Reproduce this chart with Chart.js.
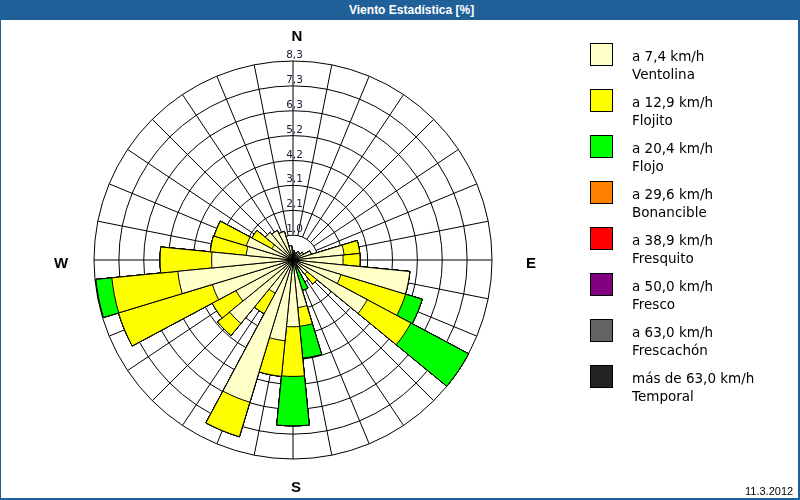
<!DOCTYPE html>
<html>
<head>
<meta charset="utf-8">
<script src="https://cdn.jsdelivr.net/npm/chart.js@4/dist/chart.umd.min.js"></script>
<style>
  html, body { margin: 0; padding: 0; background: #fff; }
  #wrap { position: relative; width: 800px; height: 500px; overflow: hidden; background: #fff; }
  #frame { position: absolute; left: 0; top: 0; width: 797px; height: 498px;
           border-left: 1px solid #1f6098; border-right: 2px solid #1f6098; border-bottom: 2px solid #1f6098; }
  #title { position: absolute; left: 0; top: 0; width: 800px; height: 20px; background: #1f6098; }
  #title span { position: absolute; left: 349px; top: 3px; color: #fff;
                font: bold 12px "Liberation Sans", Arial, sans-serif; line-height: 14px; white-space: nowrap; }
  #chart { position: absolute; left: 0; top: 0; }
  #legend { position: absolute; left: 590px; top: 43px; }
  .item { position: absolute; left: 0; width: 200px; height: 40px; }
  .box { position: absolute; left: 0; top: 0; width: 21px; height: 21px; border: 1px solid #000; }
  .txt { position: absolute; left: 42px; top: 5px; font: 13.5px "DejaVu Sans", sans-serif;
         line-height: 17.5px; color: #000; white-space: nowrap; }
  #date { position: absolute; left: 745px; top: 485px; font: 11px "Liberation Sans", Arial, sans-serif;
          color: #000; white-space: nowrap; }
</style>
</head>
<body>
<div id="wrap">
  <canvas id="chart" width="800" height="500"></canvas>
  <div id="frame"></div>
  <div id="title"><span>Viento Estadística [%]</span></div>
  <div id="legend"></div>
  <div id="date">11.3.2012</div>
</div>
<script>
// 32 wind directions, clockwise from north
const directions = ['N','NbE','NNE','NEbN','NE','NEbE','ENE','EbN',
                    'E','EbS','ESE','SEbE','SE','SEbS','SSE','SbE',
                    'S','SbW','SSW','SWbS','SW','SWbW','WSW','WbS',
                    'W','WbN','WNW','NWbW','NW','NWbN','NNW','NbW'];

// percentage of each speed band per direction
const ventolina  = [0.4, 0.3, 0.3, 0.4, 0.4, 0.5, 0.8, 2.15, 2.1, 4.92, 2.1, 3.53, 0.77, 0.2, 0.2, 2.0,
                    2.8, 3.4, 6.23, 1.58, 3.44, 2.71, 3.53, 4.85, 3.41, 1.97, 2.04, 1.0, 1.5, 1.4, 1.25, 0.6];
const flojito    = [0, 0, 0, 0, 0, 0, 0, 0.66, 0.71, 0, 2.83, 2.07, 0.53, 0, 0.15, 0.79,
                    2.08, 1.5, 1.51, 0.97, 0.65, 1.13, 4.11, 2.78, 2.16, 1.51, 1.41, 0.95, 0, 0, 0, 0];
const flojo      = [0, 0, 0, 0, 0, 0, 0, 0, 0, 0, 0.73, 2.74, 0, 0, 0.98, 1.34,
                    2.07, 0, 0, 0, 0, 0, 0, 0.67, 0, 0, 0, 0, 0, 0, 0, 0];
const bonancible = [0, 0, 0, 0, 0, 0, 0, 0, 0, 0, 0, 0, 0, 0, 0, 0,
                    0, 0, 0, 0, 0, 0, 0, 0, 0, 0, 0, 0, 0, 0, 0, 0];
const fresquito  = [0, 0, 0, 0, 0, 0, 0, 0, 0, 0, 0, 0, 0, 0, 0, 0,
                    0, 0, 0, 0, 0, 0, 0, 0, 0, 0, 0, 0, 0, 0, 0, 0];
const fresco     = [0, 0, 0, 0, 0, 0, 0, 0, 0, 0, 0, 0, 0, 0, 0, 0,
                    0, 0, 0, 0, 0, 0, 0, 0, 0, 0, 0, 0, 0, 0, 0, 0];
const frescachon = [0, 0, 0, 0, 0, 0, 0, 0, 0, 0, 0, 0, 0, 0, 0, 0,
                    0, 0, 0, 0, 0, 0, 0, 0, 0, 0, 0, 0, 0, 0, 0, 0];
const temporal   = [0, 0, 0, 0, 0, 0, 0, 0, 0, 0, 0, 0, 0, 0, 0, 0,
                    0, 0, 0, 0, 0, 0, 0, 0, 0, 0, 0, 0, 0, 0, 0, 0];

const seriesNames  = ['Ventolina', 'Flojito', 'Flojo', 'Bonancible', 'Fresquito', 'Fresco', 'Frescachón', 'Temporal'];
const seriesRanges = ['a 7,4 km/h', 'a 12,9 km/h', 'a 20,4 km/h', 'a 29,6 km/h', 'a 38,9 km/h',
                      'a 50,0 km/h', 'a 63,0 km/h', 'más de 63,0 km/h'];
const seriesColors = ['#FFFFC8', '#FFFF00', '#00FF00', '#FF8000', '#FF0000', '#800080', '#646464', '#232323'];

const tickValues = [0, 1.0425, 2.085, 3.1275, 4.17, 5.2125, 6.255, 7.2975, 8.34];
const tickLabels = ['', '1,0', '2,1', '3,1', '4,2', '5,2', '6,3', '7,3', '8,3'];
const cardinalLabels = ['N', 'E', 'S', 'W'];

// build stacked (cumulative) rings; dataset 0 is drawn on top by Chart.js
const bands = [ventolina, flojito, flojo, bonancible, fresquito, fresco, frescachon, temporal];
let running = directions.map(() => 0);
const datasets = bands.map((band, k) => {
  running = running.map((v, i) => v + band[i]);
  return {
    label: seriesNames[k],
    data: running.slice(),
    backgroundColor: seriesColors[k],
    borderColor: '#000000',
    borderWidth: 1
  };
});

// HTML legend from the series arrays
const legendEl = document.getElementById('legend');
seriesNames.forEach((name, k) => {
  const it = document.createElement('div');
  it.className = 'item';
  it.style.top = (k * 46) + 'px';
  const box = document.createElement('div');
  box.className = 'box';
  box.style.background = seriesColors[k];
  const txt = document.createElement('div');
  txt.className = 'txt';
  txt.innerHTML = seriesRanges[k] + '<br>' + name;
  it.appendChild(box); it.appendChild(txt);
  legendEl.appendChild(it);
});

const roseDecor = {
  id: 'roseDecor',
  beforeDatasetsDraw(chart) {
    const s = chart.scales.r, ctx = chart.ctx;
    const half = Math.PI / directions.length;
    const r0 = s.getDistanceFromCenterForValue(tickValues[1]);
    const r1 = s.getDistanceFromCenterForValue(tickValues[tickValues.length - 1]);
    ctx.save();
    ctx.strokeStyle = '#000'; ctx.lineWidth = 1;
    ctx.beginPath();
    for (let i = 0; i < directions.length; i++) {
      const a = s.getPointPosition(i, r0, half);
      const b = s.getPointPosition(i, r1, half);
      ctx.moveTo(a.x, a.y); ctx.lineTo(b.x, b.y);
    }
    ctx.stroke();
    ctx.restore();
  },
  afterDatasetsDraw(chart) {
    const s = chart.scales.r, ctx = chart.ctx;
    const half = Math.PI / directions.length;
    ctx.save();
    // radial tick labels along the north spoke
    ctx.font = '10.5px "DejaVu Sans", sans-serif';
    ctx.fillStyle = '#20203c';
    ctx.textAlign = 'center';
    ctx.textBaseline = 'alphabetic';
    tickValues.forEach((v, k) => {
      if (!tickLabels[k]) return;
      const d = s.getDistanceFromCenterForValue(v);
      ctx.fillText(tickLabels[k], s.xCenter + 1.5, s.yCenter - d - 3);
    });
    // cardinal letters
    ctx.font = 'bold 15px "Liberation Sans", Arial, sans-serif';
    ctx.fillStyle = '#000';
    ctx.textBaseline = 'middle';
    const step = directions.length / cardinalLabels.length;
    const extra = [24, 39, 29, 33];
    const shift = [[4, 0], [0, 4], [3, 0], [0, 4]];
    cardinalLabels.forEach((lab, k) => {
      const p = s.getPointPosition(k * step, s.drawingArea + extra[k], half);
      ctx.fillText(lab, p.x + shift[k][0], p.y + shift[k][1]);
    });
    ctx.restore();
  }
};

new Chart(document.getElementById('chart'), {
  type: 'polarArea',
  data: { labels: directions, datasets: datasets },
  options: {
    responsive: false,
    animation: false,
    layout: { padding: { left: 94, top: 61, right: 308, bottom: 41 } },
    plugins: { legend: { display: false }, tooltip: { enabled: false } },
    scales: {
      r: {
        min: 0,
        max: tickValues[tickValues.length - 1],
        startAngle: -180 / directions.length,
        afterBuildTicks: (scale) => { scale.ticks = tickValues.map(v => ({ value: v })); },
        ticks: { display: false },
        grid: { color: '#000', lineWidth: 1, circular: true },
        angleLines: { display: false },
        pointLabels: { display: false }
      }
    },
    elements: { arc: { borderColor: '#000', borderWidth: 1 } }
  },
  plugins: [roseDecor]
});
</script>
</body>
</html>
